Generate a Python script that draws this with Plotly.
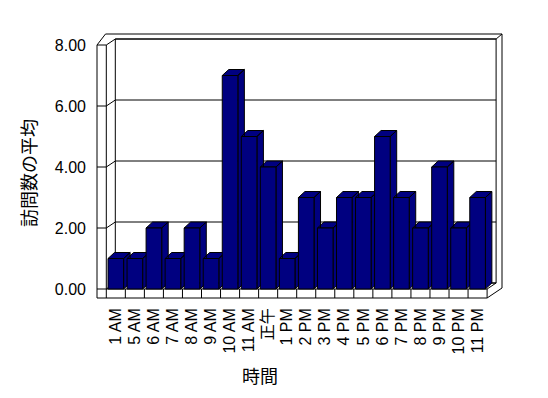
import plotly.graph_objects as go

# ---------------- data ----------------
hour_labels = ["1 AM", "5 AM", "6 AM", "7 AM", "8 AM", "9 AM", "10 AM", "11 AM", "正午",
               "1 PM", "2 PM", "3 PM", "4 PM", "5 PM", "6 PM", "7 PM", "8 PM", "9 PM",
               "10 PM", "11 PM"]
avg_visits = [1, 1, 2, 1, 2, 1, 7, 5, 4, 1, 3, 2, 3, 3, 5, 3, 2, 4, 2, 3]
y_tick_values = [0, 2, 4, 6, 8]
y_title = "訪問数の平均"
x_title = "時間"

# ---------------- geometry (screen pixels) ----------------
W, H = 548, 398
BODY = 8            # default page margin around the plot div
PX_L, PX_R, PX_T, PX_B = 90, 508, 28, 302
CAT_X0 = 106.3      # left edge of first category on the floor front
CAT_W = 19.04       # pixel width of one category
ZERO_Y = 289.0      # pixel y of value 0 at the front
UNIT_H = 30.5       # pixels per value unit
WALL_DX, WALL_DY = 9.0, 6.0    # depth offset front -> back wall
BAR_W = 0.82
BAR_DX, BAR_DY = 6.5, 6.0      # bar depth offset
LEFT_OUT = 97.0
OUT_TOP = 34.0
OUT_RIGHT = 502.0
FLOOR_BOTTOM = 298.0
NAVY = "#000080"
FONT = "Noto Sans CJK JP"
TICK_FONT = "Liberation Sans, Noto Sans CJK JP"


def xd(px):
    return (px - CAT_X0) / CAT_W - 0.5


def yd(py):
    return (ZERO_Y - py) / UNIT_H


n = len(hour_labels)
idx = list(range(n))
ymax = max(y_tick_values)
front_top = ZERO_Y - ymax * UNIT_H
floor_right = CAT_X0 + n * CAT_W
back_left = CAT_X0 + WALL_DX
back_right = floor_right + WALL_DX
back_top = front_top - WALL_DY
back_bottom = ZERO_Y - WALL_DY


def path(pts, close=False):
    s = "M " + " L ".join(f"{xd(x):.5f},{yd(y):.5f}" for x, y in pts)
    return s + (" Z" if close else "")


shapes = []


def add(pts, close=False, fill=None):
    shapes.append(dict(type="path", path=path(pts, close), xref="x", yref="y",
                       layer="below", line=dict(color="black", width=1),
                       fillcolor=fill if fill else "rgba(0,0,0,0)"))


# outer silhouette of walls + floor
add([(LEFT_OUT, front_top), (LEFT_OUT + 8.5, OUT_TOP), (OUT_RIGHT, OUT_TOP),
     (OUT_RIGHT, ZERO_Y - 1), (floor_right, FLOOR_BOTTOM), (LEFT_OUT, FLOOR_BOTTOM)],
    close=True, fill="white")
# back wall plane
add([(back_left, back_top), (back_right, back_top), (back_right, back_bottom),
     (back_left, back_bottom)], close=True)
add([(back_right, back_top), (OUT_RIGHT, OUT_TOP)])
# left wall front face
add([(CAT_X0, front_top), (CAT_X0, FLOOR_BOTTOM)])
# floor front face
add([(CAT_X0, ZERO_Y), (floor_right, ZERO_Y), (floor_right, FLOOR_BOTTOM)])
add([(floor_right, ZERO_Y), (back_right, back_bottom)])
# gridlines (left wall front + side + back wall)
for v in y_tick_values:
    py = ZERO_Y - v * UNIT_H
    add([(LEFT_OUT, py), (CAT_X0, py), (back_left, py - WALL_DY), (back_right, py - WALL_DY)])
# floor category dividers
for k in range(1, n):
    px = CAT_X0 + k * CAT_W
    add([(px, ZERO_Y), (px, FLOOR_BOTTOM)])

# ---------------- 3D faces of bars (top + right side) ----------------
ddx = BAR_DX / CAT_W
ddy = BAR_DY / UNIT_H
fx, fy = [], []
for i, v in zip(idx, avg_visits):
    xl, xr = i - BAR_W / 2, i + BAR_W / 2
    # side face
    fx += [xr, xr + ddx, xr + ddx, xr, xr, None]
    fy += [0, ddy, v + ddy, v, 0, None]
    # top face
    fx += [xl, xr, xr + ddx, xl + ddx, xl, None]
    fy += [v, v, v + ddy, v + ddy, v, None]

fig = go.Figure()
fig.add_trace(go.Scatter(x=fx, y=fy, mode="lines", fill="toself", fillcolor=NAVY,
                         line=dict(color="black", width=1), hoverinfo="skip",
                         showlegend=False, xaxis="x", yaxis="y"))
fig.add_trace(go.Bar(x=idx, y=avg_visits, width=BAR_W,
                     marker=dict(color=NAVY, line=dict(color="black", width=1)),
                     showlegend=False, xaxis="x2", yaxis="y2"))

xr_ = [xd(PX_L), xd(PX_R)]
yr_ = [yd(PX_B), yd(PX_T)]
plot_w = PX_R - PX_L
plot_h = PX_B - PX_T

fig.update_layout(
    width=W - BODY, height=H - BODY,
    margin=dict(l=PX_L - BODY, r=W - PX_R, t=PX_T - BODY, b=H - PX_B, autoexpand=False),
    paper_bgcolor="white", plot_bgcolor="white",
    font=dict(family=FONT, size=16, color="black"),
    shapes=shapes,
    xaxis=dict(range=xr_, tickmode="array", tickvals=idx, ticktext=hour_labels,
               tickangle=-90, ticks="", showgrid=False, zeroline=False, showline=False,
               ticklabelstandoff=2,
               tickfont=dict(family=TICK_FONT, size=16, color="black"), fixedrange=True),
    yaxis=dict(range=yr_, tickmode="array", tickvals=y_tick_values,
               ticktext=[f"{v:.2f}" for v in y_tick_values], ticks="", showgrid=False,
               zeroline=False, showline=False, ticklabelstandoff=3,
               tickfont=dict(family=TICK_FONT, size=16, color="black"), fixedrange=True),
    xaxis2=dict(range=xr_, overlaying="x", anchor="y2", visible=False, fixedrange=True),
    yaxis2=dict(range=yr_, overlaying="y", anchor="x2", visible=False, fixedrange=True),
    annotations=[
        dict(text=y_title, xref="paper", yref="paper",
             x=(28 - PX_L) / plot_w, y=(PX_B - 173) / plot_h, textangle=-90,
             showarrow=False, font=dict(family=FONT, size=18, color="black"),
             xanchor="center", yanchor="middle"),
        dict(text=x_title, xref="paper", yref="paper",
             x=(260 - PX_L) / plot_w, y=(PX_B - 375) / plot_h,
             showarrow=False, font=dict(family=FONT, size=18, color="black"),
             xanchor="center", yanchor="middle"),
    ],
)

fig.write_html("out.html")
